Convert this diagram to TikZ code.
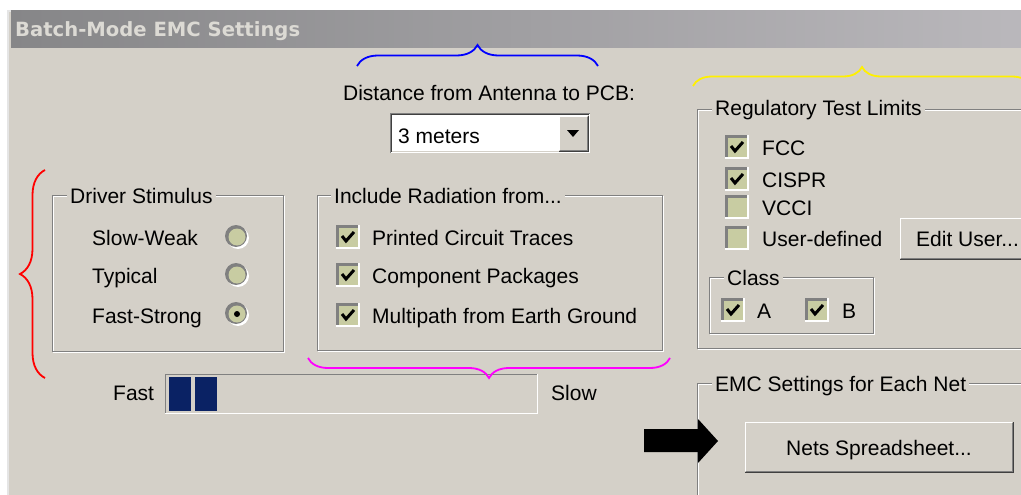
\documentclass[tikz,border=0pt]{standalone}
\usepackage{fontspec}
\setmainfont{Liberation Sans}
\newfontfamily\ttlfont{DejaVu Sans}
\usetikzlibrary{decorations.pathreplacing}
\definecolor{bg}{RGB}{212,208,200}
\definecolor{dkg}{RGB}{128,128,128}
\definecolor{dkr}{RGB}{64,64,64}
\definecolor{chkfill}{RGB}{200,204,162}
\definecolor{tbl}{RGB}{134,134,136}
\definecolor{tbr}{RGB}{186,184,188}
\definecolor{ttltxt}{RGB}{220,218,212}
\definecolor{navy}{RGB}{10,34,100}
\definecolor{bmag}{RGB}{255,0,255}
\definecolor{byel}{RGB}{255,240,0}
\newcommand\etchbox[4]{%
  \draw[white] (#1+1,#2+1) rectangle (#3+1,#4+1);
  \draw[dkg] (#1,#2) rectangle (#3,#4);}
\newcommand\chk[3]{%
  \fill[white] (#1-12,#2-12) rectangle (#1+12,#2+12);
  \fill[dkg] (#1-12,#2-12) rectangle (#1+10,#2+10);
  \fill[chkfill] (#1-9,#2-9) rectangle (#1+10,#2+10);
  \ifnum#3=1 \draw[line width=3pt] (#1-6,#2-1) -- (#1-2,#2+4) -- (#1+6,#2-5);\fi}
\newcommand\rad[3]{%
  \fill[white] (#1+1,#2+1) circle (11pt);
  \fill[dkg] (#1-1,#2-1) circle (11pt);
  \fill[chkfill] (#1,#2) circle (8.5pt);
  \ifnum#3=1 \fill (#1,#2) circle (3pt);\fi}
\newcommand\raised[4]{%
  \fill[bg] (#1,#2) rectangle (#3,#4);
  \draw[dkr] (#1,#4) -- (#3,#4) -- (#3,#2);
  \draw[dkg] (#1+1,#4-1) -- (#3-1,#4-1) -- (#3-1,#2+1);
  \draw[white] (#1,#4-1) -- (#1,#2) -- (#3-1,#2);}
\begin{document}
\begin{tikzpicture}[x=1pt,y=-1pt,
  txt/.style={inner sep=0pt,anchor=base west,font=\fontsize{21}{25}\selectfont,text=black},
  glabel/.style={txt,fill=bg,inner xsep=3pt,inner ysep=2pt},
  bracestyle/.style={decorate,decoration={brace,amplitude=#1},line width=1.8pt},
]
\useasboundingbox (0,0) rectangle (1021,495);
\clip (0,0) rectangle (1021,495);
\fill[white] (0,0) rectangle (1021,495);
\fill[gray!20] (7,10) rectangle (1030,500);
\fill[bg] (9,12) rectangle (1030,500);
\shade[left color=tbl,right color=tbr] (11,11) rectangle (1030,48);
\node[inner sep=0pt,anchor=base west,font=\ttlfont\bfseries\fontsize{19.6}{23}\selectfont,text=ttltxt] (title) at (15,37) {Batch-Mode EMC Settings};

% Driver stimulus
\etchbox{52}{195}{283}{351}
\node[glabel] (drvlbl) at (67,203) {Driver Stimulus};
\node[txt] (slow) at (92,245) {Slow-Weak};
\node[txt] (typ) at (92,283) {Typical};
\node[txt] (fast) at (92,323) {Fast-Strong};
\rad{237}{237}{0}
\rad{237}{275}{0}
\rad{237}{314}{1}

% Distance
\node[txt,anchor=base] (dist) at (489,100) {Distance from Antenna to PCB:};
\fill[dkg] (390,113) rectangle (590,153);
\fill[white] (391,114) rectangle (590,153);
\fill[dkr] (391,114) rectangle (589,152);
\fill[bg] (392,115) rectangle (589,152);
\fill[white] (392,115) rectangle (588,151);
\raised{559}{116}{588}{151}
\fill (567,130) -- (579,130) -- (573,137) -- cycle;
\node[txt] (meters) at (398,143) {3 meters};

% Include radiation
\etchbox{317}{195}{662}{350}
\node[glabel] (radlbl) at (331,203) {Include Radiation from...};
\chk{348}{237}{1}
\chk{348}{275}{1}
\chk{348}{315}{1}
\node[txt] (pct) at (372,245) {Printed Circuit Traces};
\node[txt] (cpk) at (372,283) {Component Packages};
\node[txt] (mpe) at (372,323) {Multipath from Earth Ground};

% progress bar
\node[txt] (fastlbl) at (113,400) {Fast};
\node[txt] (slowlbl) at (551,400) {Slow};
\draw[white] (165,413) -- (537,413) -- (537,374);
\draw[dkg] (165,413) -- (165,374) -- (537,374);
\fill[navy] (169,377) rectangle (191,411);
\fill[navy] (195,377) rectangle (217,411);

% Regulatory
\etchbox{697}{109}{1030}{348}
\node[glabel] (reglbl) at (712,116) {Regulatory Test Limits};
\chk{737}{147}{1}
\chk{737}{179}{1}
\chk{737}{207}{0}
\chk{737}{238}{0}
\node[txt] (fcc) at (762,155) {FCC};
\node[txt] (cispr) at (762,187) {CISPR};
\node[txt] (vcci) at (762,215) {VCCI};
\node[txt] (userdef) at (762,246) {User-defined};
\raised{900}{218}{1030}{259}
\node[txt] (edituser) at (916,246) {Edit User...};
\etchbox{709}{277}{873}{333}
\node[glabel] (classlbl) at (724,285) {Class};
\chk{733}{310}{1}
\chk{817}{310}{1}
\node[txt] (clA) at (757,318) {A};
\node[txt] (clB) at (842,318) {B};

% EMC each net
\etchbox{697}{383}{1030}{520}
\node[glabel] (netlbl) at (712,391) {EMC Settings for Each Net};
\raised{745}{422}{1013}{472}
\node[txt,anchor=base] (nets) at (879,455) {Nets Spreadsheet...};

% arrow
\fill (644,429) -- (698,429) -- (698,419) -- (718,441) -- (698,463) -- (698,452) -- (644,452) -- cycle;

% braces
\draw[red,bracestyle=25] (45,378) -- (45,170);
\draw[blue,bracestyle=21] (357,66) -- (598,66);
\draw[bmag,bracestyle=20] (670,358) -- (308,358);
\draw[byel,bracestyle=19] (693,86) -- (1031,86);
\end{tikzpicture}
\end{document}
